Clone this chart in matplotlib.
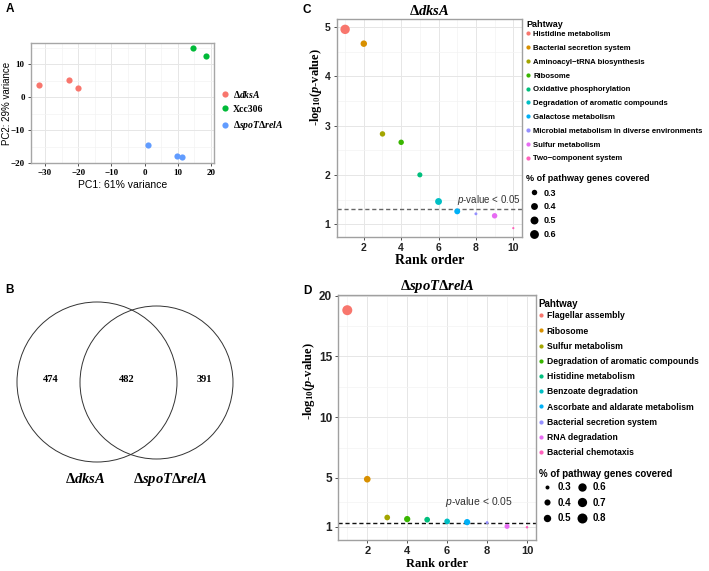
import numpy as np
import matplotlib
matplotlib.use("Agg")
import matplotlib.pyplot as plt
from matplotlib.lines import Line2D
from matplotlib.patches import Circle
from matplotlib.ticker import MultipleLocator, FixedLocator

plt.rcParams['mathtext.fontset'] = 'custom'
plt.rcParams['mathtext.rm'] = 'Liberation Serif:bold'
plt.rcParams['mathtext.it'] = 'Liberation Serif:italic:bold'
plt.rcParams['mathtext.bf'] = 'Liberation Serif:bold'
plt.rcParams['mathtext.sf'] = 'Liberation Sans:italic'

SERIF = 'Liberation Serif'
SANS = 'Liberation Sans'

# ---- Panel A : PCA ----
pca_groups = ['Δ$\\mathit{dksA}$', 'Xcc306', 'Δ$\\mathit{spoT}$Δ$\\mathit{relA}$']
pca_colors = ['#F8766D', '#00BA38', '#619CFF']
pca_pc1 = [[-31.8, -22.8, -19.9], [14.6, 18.4], [1.0, 9.8, 11.4]]
pca_pc2 = [[3.6, 5.2, 2.8], [15.0, 12.5], [-14.6, -17.8, -18.3]]

# ---- Panel B : Venn ----
venn_counts = [474, 482, 391]
venn_sets = ['Δ$\\mathit{dksA}$', 'Δ$\\mathit{spoT}$Δ$\\mathit{relA}$']

# ---- Panel C : ΔdksA enrichment ----
c_pathways = ['Histidine metabolism', 'Bacterial secretion system',
              'Aminoacyl\u2212tRNA biosynthesis', 'Ribosome',
              'Oxidative phosphorylation', 'Degradation of aromatic compounds',
              'Galactose metabolism', 'Microbial metabolism in diverse environments',
              'Sulfur metabolism', 'Two\u2212component system']
c_logp = [4.95, 4.66, 2.83, 2.66, 2.00, 1.46, 1.26, 1.21, 1.17, 0.92]
c_cov = [0.67, 0.37, 0.30, 0.30, 0.28, 0.40, 0.33, 0.21, 0.30, 0.205]
c_size_breaks = [0.3, 0.4, 0.5, 0.6]

# ---- Panel D : ΔspoTΔrelA enrichment ----
d_pathways = ['Flagellar assembly', 'Ribosome', 'Sulfur metabolism',
              'Degradation of aromatic compounds', 'Histidine metabolism',
              'Benzoate degradation', 'Ascorbate and aldarate metabolism',
              'Bacterial secretion system', 'RNA degradation', 'Bacterial chemotaxis']
d_logp = [18.8, 4.9, 1.75, 1.62, 1.57, 1.43, 1.37, 1.33, 1.02, 0.95]
d_cov = [0.80, 0.44, 0.375, 0.41, 0.375, 0.375, 0.41, 0.282, 0.34, 0.28]
d_size_breaks = [0.3, 0.4, 0.5, 0.6, 0.7, 0.8]

hue10 = ['#F8766D', '#D89000', '#A3A500', '#39B600', '#00BF7D',
         '#00BFC4', '#00B0F6', '#9590FF', '#E76BF3', '#FF62BC']

p_cut = -np.log10(0.05)

W, H = 709, 571
fig = plt.figure(figsize=(W / 100, H / 100), dpi=100)


def px_axes(l, t, r, b):
    return fig.add_axes([l / W, 1 - b / H, (r - l) / W, (b - t) / H])


def style_box(ax, edge):
    ax.set_axisbelow(True)
    ax.grid(which='major', color='#e6e6e6', lw=0.7)
    ax.grid(which='minor', color='#f3f3f3', lw=0.5)
    for s in ax.spines.values():
        s.set_color(edge)
        s.set_linewidth(1.0)
    ax.tick_params(which='major', length=2.5, width=0.6, color='#333333', pad=2)
    ax.tick_params(which='minor', length=0)


def px_to_pt2(d):
    return (np.asarray(d) * 0.72) ** 2


# ================= A =================
axA = px_axes(31, 43, 214, 163)
for xs, ys, col in zip(pca_pc1, pca_pc2, pca_colors):
    axA.scatter(xs, ys, s=px_to_pt2(6.2), color=col, lw=0, zorder=3)
axA.set_xlim(-34.2, 20.9)
axA.set_ylim(-20, 16.4)
axA.xaxis.set_major_locator(MultipleLocator(10))
axA.xaxis.set_minor_locator(MultipleLocator(5))
axA.yaxis.set_major_locator(MultipleLocator(10))
axA.yaxis.set_minor_locator(MultipleLocator(5))
style_box(axA, '#a6a6a6')
for lab in axA.get_xticklabels() + axA.get_yticklabels():
    lab.set_fontfamily(SERIF)
    lab.set_fontweight('bold')
    lab.set_fontsize(6.5)
axA.set_xlabel('PC1: 61% variance', fontfamily=SANS, fontsize=7.5, labelpad=2)
axA.set_ylabel('PC2: 29% variance', fontfamily=SANS, fontsize=7, labelpad=0)
axA.yaxis.set_label_coords(-0.105, 0.5)
hA = [Line2D([], [], marker='o', ls='', color=c, markersize=6.2 * 0.72, mew=0)
      for c in pca_colors]
axA.legend(hA, pca_groups, loc='upper left', bbox_to_anchor=(221 / W, 1 - 88.5 / H),
           bbox_transform=fig.transFigure, frameon=False, borderpad=0,
           borderaxespad=0, handlelength=0.9, handletextpad=0.35,
           labelspacing=0.55, prop={'family': SERIF, 'weight': 'bold', 'size': 7})

# ================= B =================
axB = px_axes(0, 290, 300, 571)
axB.set_xlim(0, 300)
axB.set_ylim(571, 290)
axB.axis('off')
axB.add_patch(Circle((97, 382), 80, fill=False, ec='#333333', lw=0.7))
axB.add_patch(Circle((156.5, 382.5), 76.5, fill=False, ec='#333333', lw=0.7))
for xc, n in zip([51, 127, 204], venn_counts):
    axB.text(xc, 379, str(n), ha='center', va='center', fontfamily=SERIF,
             fontweight='bold', fontsize=7.5)
for xc, name in zip([85, 170], venn_sets):
    axB.text(xc, 479, name, ha='center', va='center', fontfamily=SERIF,
             fontweight='bold', fontsize=10.5)


# ================= C / D =================
def enrich_panel(box, logp, cov, names, breaks, dmin, dmax, ylim, yticks, yminor,
                 title, title_pad, xtick_fs, ytick_fs, xtick_pad, lab_fs, xlab_y, ylab_xy,
                 dash_col, note_xy, note_fs, leg1, leg2, leg_fs, title_fs, ncol2):
    ax = px_axes(*box)
    rank = np.arange(1, len(logp) + 1)
    vmin, vmax = min(cov), max(cov)

    def diam(v):
        return dmin + (dmax - dmin) * np.sqrt(np.clip((np.asarray(v) - vmin) / (vmax - vmin), 0, None))

    ax.axhline(p_cut, color=dash_col, lw=1.0, ls=(0, (3, 2)), zorder=2)
    ax.scatter(rank, logp, s=px_to_pt2(diam(cov)), c=hue10[:len(logp)], lw=0, zorder=3)
    ax.text(note_xy[0], note_xy[1], '$\\mathsf{p}$-value < 0.05', fontfamily=SANS,
            fontsize=note_fs, color='#333333', ha='left', va='center')
    ax.set_xlim(0.55, 10.45)
    ax.set_ylim(*ylim)
    ax.xaxis.set_major_locator(FixedLocator([2, 4, 6, 8, 10]))
    ax.xaxis.set_minor_locator(FixedLocator([1, 3, 5, 7, 9]))
    ax.yaxis.set_major_locator(FixedLocator(yticks))
    ax.yaxis.set_minor_locator(FixedLocator(yminor))
    style_box(ax, '#a0a0a0')
    ax.tick_params(axis='x', which='major', pad=xtick_pad)
    for lab in ax.get_xticklabels():
        lab.set_fontfamily(SANS)
        lab.set_fontweight('bold')
        lab.set_fontsize(xtick_fs)
        lab.set_color('#222222')
    for lab in ax.get_yticklabels():
        lab.set_fontfamily(SANS)
        lab.set_fontweight('bold')
        lab.set_fontsize(ytick_fs)
        lab.set_color('#222222')
    ax.set_xlabel('Rank order', fontfamily=SERIF, fontweight='bold', fontsize=lab_fs)
    ax.xaxis.label.set_va('center')
    ax.xaxis.set_label_coords(0.5, (box[3] - xlab_y) / (box[3] - box[1]))
    ax.set_ylabel('-log$_{10}$($\\mathit{p}$-value)', fontfamily=SERIF, fontweight='bold',
                  fontsize=9)
    ax.yaxis.set_label_coords(*ylab_xy)
    ax.set_title(title, fontfamily=SERIF, fontweight='bold', fontsize=10.5, pad=title_pad)

    # colour legend (title drawn separately so its gap can be set)
    fig.text(leg1[0] / W, 1 - leg1[1] / H, 'Pahtway', fontfamily=SANS, fontweight='bold',
             fontsize=title_fs, ha='left', va='center')
    h1 = [Line2D([], [], marker='o', ls='', color=c, markersize=4.2 * 0.72, mew=0)
          for c in hue10[:len(names)]]
    lg1 = ax.legend(h1, names, loc='upper left',
                    bbox_to_anchor=((leg1[0] - 1) / W, 1 - leg1[2] / H),
                    bbox_transform=fig.transFigure, frameon=False, borderpad=0,
                    borderaxespad=0, handlelength=0.8, handletextpad=0.25,
                    labelspacing=leg1[3],
                    prop={'family': SANS, 'weight': 'bold', 'size': leg_fs})
    ax.add_artist(lg1)

    # size legend
    fig.text(leg2[0] / W, 1 - leg2[1] / H, '% of pathway genes covered', fontfamily=SANS,
             fontweight='bold', fontsize=title_fs, ha='left', va='center')
    h2 = [Line2D([], [], marker='o', ls='', color='black', markersize=diam(b) * 0.72, mew=0)
          for b in breaks]
    ax.legend(h2, [f'{b:.1f}' for b in breaks], loc='upper left',
              bbox_to_anchor=(leg2[0] / W, 1 - leg2[2] / H),
              bbox_transform=fig.transFigure, frameon=False, borderpad=0,
              borderaxespad=0, handlelength=leg2[3], handletextpad=0.3,
              labelspacing=leg2[4], ncols=ncol2, columnspacing=0.3,
              prop={'family': SANS, 'weight': 'bold', 'size': title_fs})
    return ax


enrich_panel((336.7, 19, 521.7, 237), c_logp, c_cov, c_pathways, c_size_breaks,
             2.2, 9.4, (0.74, 5.16), [1, 2, 3, 4, 5], [1.5, 2.5, 3.5, 4.5],
             'Δ$\\mathit{dksA}$', 3, 7.5, 7.5, 2, 10, 260, (-0.066, 0.688), '#666666',
             (7.0, p_cut + 0.19), 7,
             (526, 24.3, 30.6, 0.82), (526, 178.3, 188.5, 1.7, 0.55), 5.6, 6.5, 1)

enrich_panel((338.3, 295, 536, 540), d_logp, d_cov, d_pathways, d_size_breaks,
             2.5, 10.0, (-0.1, 20.05), [1, 5, 10, 15, 20], [3, 7.5, 12.5, 17.5],
             'Δ$\\mathit{spoT}$Δ$\\mathit{relA}$', -1, 8, 8.5, 1.5, 9, 563.8,
             (-0.108, 0.649), '#111111', (5.9, p_cut + 1.75), 7.5,
             (538.7, 304.3, 311.3, 0.72), (539, 474, 482.1, 1.6, 0.58), 6.2, 7, 2)

# panel letters
for t, x, y in [('A', 10, 9), ('B', 10, 290), ('C', 307, 10), ('D', 307, 291)]:
    fig.text(x / W, 1 - y / H, t, fontfamily=SANS, fontweight='bold', fontsize=8.5,
             ha='center', va='center')

fig.savefig('out.png', dpi=100)
